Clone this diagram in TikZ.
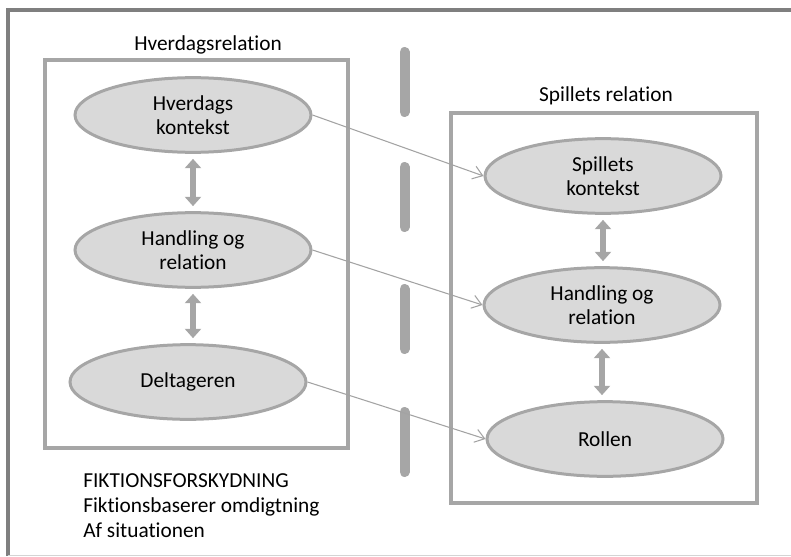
\documentclass[tikz,border=0pt]{standalone}
\usepackage{fontspec}
\setmainfont{Carlito}[Ligatures=NoCommon]
\usetikzlibrary{arrows.meta,shapes.geometric}
\definecolor{framegray}{HTML}{7F7F7F}
\definecolor{boxgray}{HTML}{A6A6A6}
\definecolor{fillgray}{HTML}{D9D9D9}
\definecolor{linkgray}{HTML}{A3A3A3}
\definecolor{edgegray}{HTML}{D4D4D4}

\begin{document}
\begin{tikzpicture}[x=0.75pt,y=-0.75pt,
        every node/.style={font=\fontsize{16}{18}\selectfont},
        stage/.style={ellipse,draw=boxgray,fill=fillgray,line width=2.25pt,
            minimum width=177pt,minimum height=56pt,align=center,inner sep=0pt},
        relbox/.style={draw=boxgray,line width=3pt},
        divider/.style={boxgray,line width=7.5pt,line cap=round},
        mutual/.style={boxgray,line width=5pt,
            {Triangle[length=7pt,width=12pt]}-{Triangle[length=7pt,width=12pt]},
            shorten <=3.75pt,shorten >=3.75pt},
        link/.style={linkgray,line width=0.8pt,-{Straight Barb[length=7pt,width=10pt]}}]
    \useasboundingbox (0,0) rectangle (791,556);
    \draw[framegray,line width=3pt] (8,556) -- (8,10) -- (791,10);
    \draw[edgegray,line width=0.75pt] (8,555) -- (791,555);

    \node (hvtitle) at (208,45) {Hverdagsrelation};
    \draw[relbox] (45,60) rectangle (348,448);
    \node[stage] (hvctx) at (193,115) {Hverdags\\kontekst};
    \node[stage] (hvact) at (193,250) {Handling og\\relation};
    \node[stage] (hvself) at (188,382) {Deltageren};

    \node (sptitle) at (606,96) {Spillets relation};
    \draw[relbox] (451,113) rectangle (757,503);
    \node[stage] (spctx) at (603,176) {Spillets\\kontekst};
    \node[stage] (spact) at (602,305) {Handling og\\relation};
    \node[stage] (sprole) at (605,439) {Rollen};

    \foreach \y in {47,162,284,407}
        \draw[divider] (404.5,\y+5) -- (404.5,\y+65);

    \draw[mutual] (hvctx.south) -- (hvact.north);
    \draw[mutual] (hvact.south) -- (hvact.south |- hvself.north);
    \draw[mutual] (spctx.south) -- (spctx.south |- spact.north);
    \draw[mutual] (spact.south) -- (spact.south |- sprole.north);

    \draw[link] (hvctx.east) -- (spctx.west);
    \draw[link] (hvact.east) -- (spact.west);
    \draw[link] (hvself.east) -- (sprole.west);

    \node[anchor=north west,align=left,inner sep=0pt,font=\fontsize{16}{19}\selectfont] (shiftnote) at (83,473)
        {FIKTIONSFORSKYDNING\\Fiktionsbaserer omdigtning\\Af situationen};
\end{tikzpicture}
\end{document}
